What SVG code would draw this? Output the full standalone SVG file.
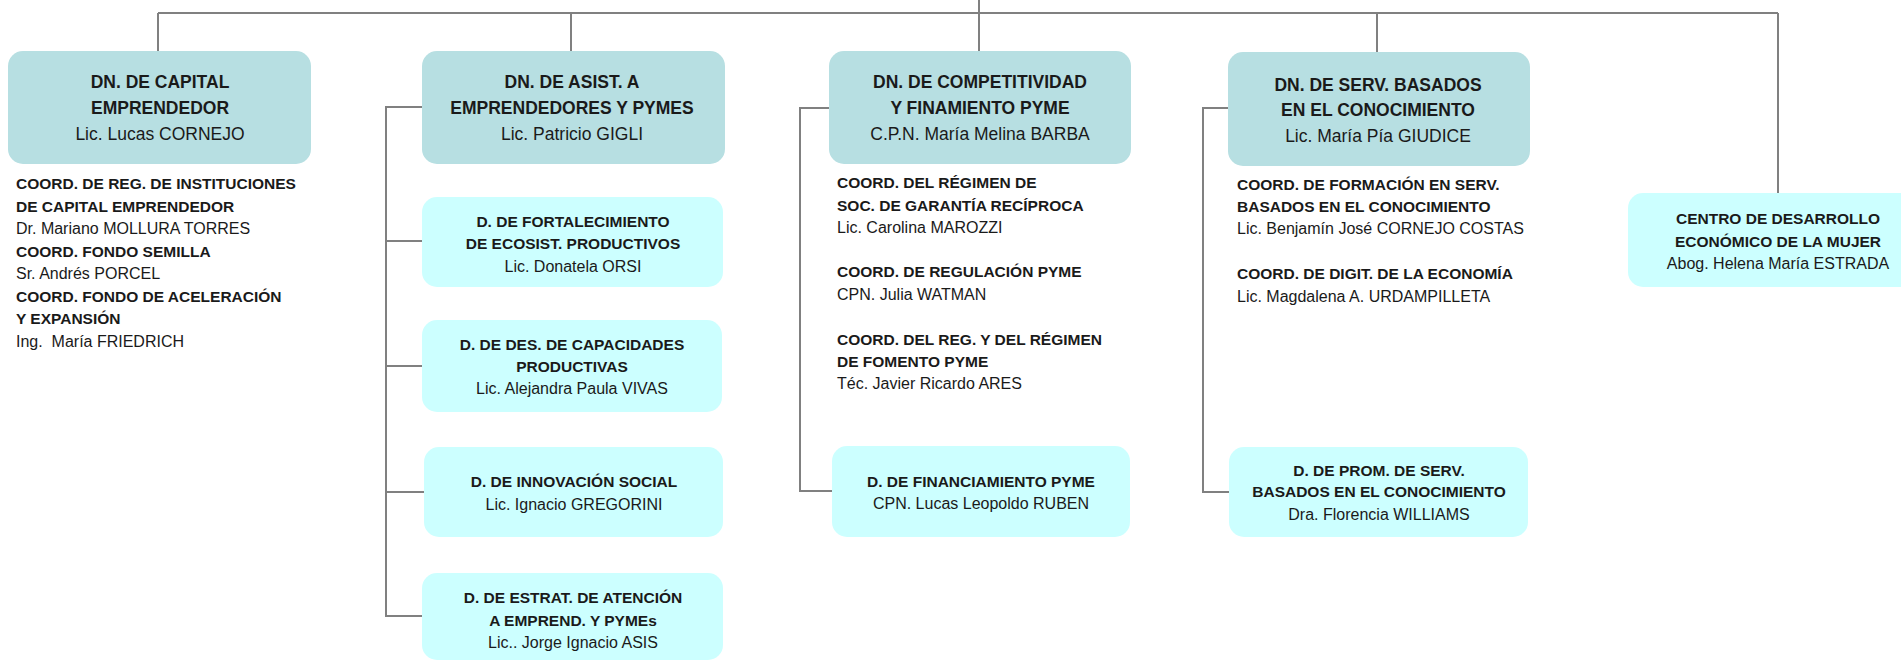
<svg xmlns="http://www.w3.org/2000/svg" width="1901" height="660" viewBox="0 0 1901 660">
<style>
.hdr{fill:#b7dfe2}
.sub{fill:#ccffff}
text{font-family:"Liberation Sans",Arial,sans-serif;fill:#1a1a1a}
.hb{font-size:17.5px;font-weight:bold;text-anchor:middle}
.hr{font-size:17.5px;text-anchor:middle}
.sb{font-size:15.5px;font-weight:bold;text-anchor:middle}
.sr{font-size:16px;text-anchor:middle}
.cb{font-size:15.5px;font-weight:bold}
.cr{font-size:16px}
.con{fill:none;stroke:#808080;stroke-width:2}
</style>
<rect width="1901" height="660" fill="#ffffff"/>
<g id="connectors" class="con">
<path d="M158,13 H1778"/>
<path d="M979,0 V51"/>
<path d="M158,13 V51"/>
<path d="M571,13 V51"/>
<path d="M1377,13 V52"/>
<path d="M1778,13 V193"/>
<path d="M422,107 H386 V616 H422"/>
<path d="M386,241 H422"/>
<path d="M386,366 H422"/>
<path d="M386,492 H424"/>
<path d="M829,108 H800 V491 H832"/>
<path d="M1228,108 H1203 V492 H1229"/>
</g>
<g id="dn-capital">
<rect class="hdr" x="8" y="51" width="303" height="113" rx="15"/>
<text class="hb" x="160" y="88">DN. DE CAPITAL</text>
<text class="hb" x="160" y="114">EMPRENDEDOR</text>
<text class="hr" x="160" y="140">Lic. Lucas CORNEJO</text>
</g>
<g id="coord-capital">
<text class="cb" x="16" y="189">COORD. DE REG. DE INSTITUCIONES</text>
<text class="cb" x="16" y="212">DE CAPITAL EMPRENDEDOR</text>
<text class="cr" x="16" y="234">Dr. Mariano MOLLURA TORRES</text>
<text class="cb" x="16" y="257">COORD. FONDO SEMILLA</text>
<text class="cr" x="16" y="279">Sr. Andrés PORCEL</text>
<text class="cb" x="16" y="302">COORD. FONDO DE ACELERACIÓN</text>
<text class="cb" x="16" y="324">Y EXPANSIÓN</text>
<text class="cr" x="16" y="347">Ing.&#160; María FRIEDRICH</text>
</g>
<g id="dn-asist">
<rect class="hdr" x="422" y="51" width="303" height="113" rx="15"/>
<text class="hb" x="572" y="88">DN. DE ASIST. A</text>
<text class="hb" x="572" y="114">EMPRENDEDORES Y PYMES</text>
<text class="hr" x="572" y="140">Lic. Patricio GIGLI</text>
</g>
<g id="d-fortalecimiento">
<rect class="sub" x="422" y="197" width="301" height="90" rx="15"/>
<text class="sb" x="573" y="227">D. DE FORTALECIMIENTO</text>
<text class="sb" x="573" y="249">DE ECOSIST. PRODUCTIVOS</text>
<text class="sr" x="573" y="272">Lic. Donatela ORSI</text>
</g>
<g id="d-capacidades">
<rect class="sub" x="422" y="320" width="300" height="92" rx="15"/>
<text class="sb" x="572" y="350">D. DE DES. DE CAPACIDADES</text>
<text class="sb" x="572" y="372">PRODUCTIVAS</text>
<text class="sr" x="572" y="394">Lic. Alejandra Paula VIVAS</text>
</g>
<g id="d-innovacion">
<rect class="sub" x="424" y="447" width="299" height="90" rx="15"/>
<text class="sb" x="574" y="487">D. DE INNOVACIÓN SOCIAL</text>
<text class="sr" x="574" y="510">Lic. Ignacio GREGORINI</text>
</g>
<g id="d-estrat">
<rect class="sub" x="422" y="573" width="301" height="87" rx="15"/>
<text class="sb" x="573" y="603">D. DE ESTRAT. DE ATENCIÓN</text>
<text class="sb" x="573" y="626">A EMPREND. Y PYMEs</text>
<text class="sr" x="573" y="648">Lic.. Jorge Ignacio ASIS</text>
</g>
<g id="dn-competitividad">
<rect class="hdr" x="829" y="51" width="302" height="113" rx="15"/>
<text class="hb" x="980" y="88">DN. DE COMPETITIVIDAD</text>
<text class="hb" x="980" y="114">Y FINAMIENTO PYME</text>
<text class="hr" x="980" y="140">C.P.N. María Melina BARBA</text>
</g>
<g id="coord-competitividad">
<text class="cb" x="837" y="188">COORD. DEL RÉGIMEN DE</text>
<text class="cb" x="837" y="211">SOC. DE GARANTÍA RECÍPROCA</text>
<text class="cr" x="837" y="233">Lic. Carolina MAROZZI</text>
<text class="cb" x="837" y="277">COORD. DE REGULACIÓN PYME</text>
<text class="cr" x="837" y="300">CPN. Julia WATMAN</text>
<text class="cb" x="837" y="345">COORD. DEL REG. Y DEL RÉGIMEN</text>
<text class="cb" x="837" y="367">DE FOMENTO PYME</text>
<text class="cr" x="837" y="389">Téc. Javier Ricardo ARES</text>
</g>
<g id="d-financiamiento">
<rect class="sub" x="832" y="446" width="298" height="91" rx="15"/>
<text class="sb" x="981" y="487">D. DE FINANCIAMIENTO PYME</text>
<text class="sr" x="981" y="509">CPN. Lucas Leopoldo RUBEN</text>
</g>
<g id="dn-serv">
<rect class="hdr" x="1228" y="52" width="302" height="114" rx="15"/>
<text class="hb" x="1378" y="91">DN. DE SERV. BASADOS</text>
<text class="hb" x="1378" y="116">EN EL CONOCIMIENTO</text>
<text class="hr" x="1378" y="142">Lic. María Pía GIUDICE</text>
</g>
<g id="coord-serv">
<text class="cb" x="1237" y="190">COORD. DE FORMACIÓN EN SERV.</text>
<text class="cb" x="1237" y="212">BASADOS EN EL CONOCIMIENTO</text>
<text class="cr" x="1237" y="234">Lic. Benjamín José CORNEJO COSTAS</text>
<text class="cb" x="1237" y="279">COORD. DE DIGIT. DE LA ECONOMÍA</text>
<text class="cr" x="1237" y="302">Lic. Magdalena A. URDAMPILLETA</text>
</g>
<g id="d-prom">
<rect class="sub" x="1229" y="447" width="299" height="90" rx="15"/>
<text class="sb" x="1379" y="476">D. DE PROM. DE SERV.</text>
<text class="sb" x="1379" y="497">BASADOS EN EL CONOCIMIENTO</text>
<text class="sr" x="1379" y="520">Dra. Florencia WILLIAMS</text>
</g>
<g id="centro-mujer">
<rect class="sub" x="1628" y="193" width="290" height="94" rx="15"/>
<text class="sb" x="1778" y="224">CENTRO DE DESARROLLO</text>
<text class="sb" x="1778" y="247">ECONÓMICO DE LA MUJER</text>
<text class="sr" x="1778" y="269">Abog. Helena María ESTRADA</text>
</g>
</svg>
